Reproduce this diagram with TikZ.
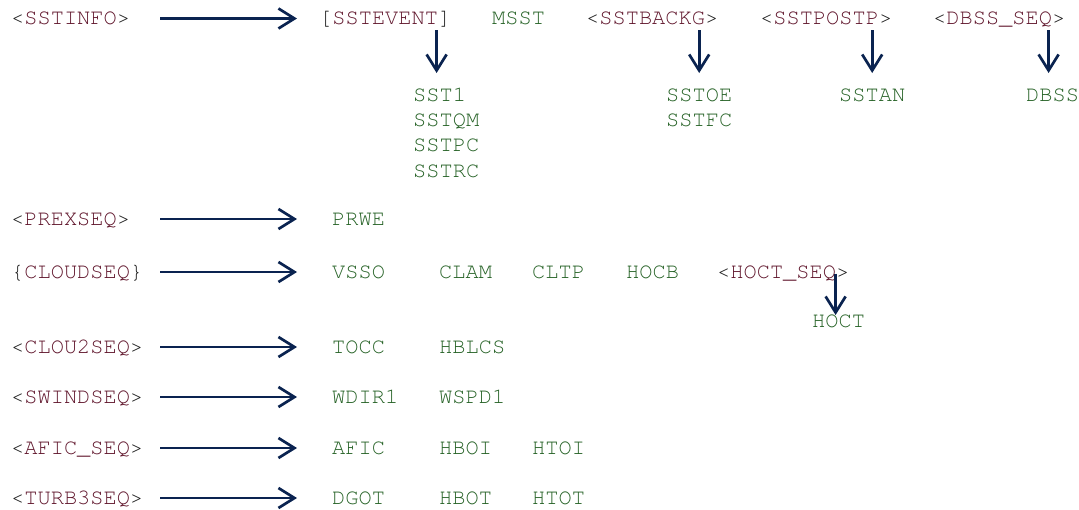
\documentclass[tikz,border=0pt]{standalone}
\usepackage{fontspec}
\setmonofont{texgyrecursor-regular.otf}
\usetikzlibrary{positioning,arrows.meta}
\definecolor{seqred}{RGB}{96,22,44}
\definecolor{brk}{RGB}{30,30,30}
\definecolor{elemgreen}{RGB}{38,98,38}
\definecolor{flownavy}{RGB}{10,35,80}
\newcommand{\seqlbl}[3]{\textcolor{brk}{#1}\textcolor{seqred}{#2}\textcolor{brk}{#3}}

\begin{document}
\begin{tikzpicture}[x=1pt,y=1pt,node distance=25.3pt,
    txt/.style={inner sep=0pt,anchor=west,text height=12.6pt,text depth=0pt,font=\ttfamily\fontsize{22}{25}\selectfont},
    seq/.style={txt,text width=149pt,align=left},
    elem/.style={txt,text=elemgreen},
    flow/.style={draw=flownavy,line width=2.7pt,-{Straight Barb[length=16pt,width=20pt]}},
    across/.style={flow,shorten >=35pt},
    down/.style={flow,shorten <=5pt,shorten >=15.5pt}]
    \useasboundingbox (0,0) rectangle (1079,-509);
    \node[seq] (sstinfo)  at (11,-18.5) {\seqlbl{<}{SSTINFO}{>}};
    \node[seq] (prexseq)  at (11,-219)  {\seqlbl{<}{PREXSEQ}{>}};
    \node[seq] (cloudseq) at (11,-272)  {\seqlbl{\{}{CLOUDSEQ}{\}}};
    \node[seq] (clou2seq) at (11,-347)  {\seqlbl{<}{CLOU2SEQ}{>}};
    \node[seq] (swindseq) at (11,-397)  {\seqlbl{<}{SWINDSEQ}{>}};
    \node[seq] (aficseq)  at (11,-448)  {\seqlbl{<}{AFIC\_SEQ}{>}};
    \node[seq] (turb3seq) at (11,-498)  {\seqlbl{<}{TURB3SEQ}{>}};

    \node[txt]  (sstevent) at (319,-18.5) {\seqlbl{[}{SSTEVENT}{]}};
    \node[elem] (msst)     at (492,-18.5) {MSST};
    \node[txt]  (sstbackg) at (586,-18.5) {\seqlbl{<}{SSTBACKG}{>}};
    \node[txt]  (sstpostp) at (760,-18.5) {\seqlbl{<}{SSTPOSTP}{>}};
    \node[txt]  (dbssseq)  at (933,-18.5) {\seqlbl{<}{DBSS\_SEQ}{>}};

    \node[elem] (sst1) at (413,-95) {SST1};
    \node[elem,below=of sst1.west,anchor=west]  (sstqm) {SSTQM};
    \node[elem,below=of sstqm.west,anchor=west] (sstpc) {SSTPC};
    \node[elem,below=of sstpc.west,anchor=west] (sstrc) {SSTRC};
    \node[elem] (sstoe) at (666,-95) {SSTOE};
    \node[elem,below=of sstoe.west,anchor=west] (sstfc) {SSTFC};
    \node[elem] (sstan) at (839,-95) {SSTAN};
    \node[elem] (dbss)  at (1026,-95) {DBSS};

    \node[elem] (prwe)    at (332,-219) {PRWE};
    \node[elem] (vsso)    at (332,-272) {VSSO};
    \node[elem] (clam)    at (439,-272) {CLAM};
    \node[elem] (cltp)    at (532,-272) {CLTP};
    \node[elem] (hocb)    at (626,-272) {HOCB};
    \node[txt]  (hoctseq) at (717,-272) {\seqlbl{<}{HOCT\_SEQ}{>}};
    \node[elem] (hoct)    at (812,-321.5) {HOCT};
    \node[elem] (tocc)    at (332,-347) {TOCC};
    \node[elem] (hblcs)   at (439,-347) {HBLCS};
    \node[elem] (wdir1)   at (332,-397) {WDIR1};
    \node[elem] (wspd1)   at (439,-397) {WSPD1};
    \node[elem] (afic)    at (332,-448) {AFIC};
    \node[elem] (hboi)    at (439,-448) {HBOI};
    \node[elem] (htoi)    at (532,-448) {HTOI};
    \node[elem] (dgot)    at (332,-498) {DGOT};
    \node[elem] (hbot)    at (439,-498) {HBOT};
    \node[elem] (htot)    at (532,-498) {HTOT};

    \draw[across,shorten >=22pt] (sstinfo.east) -- (sstevent.west);
    \draw[across] (prexseq.east)  -- (prwe.west);
    \draw[across] (cloudseq.east) -- (vsso.west);
    \draw[across] (clou2seq.east) -- (tocc.west);
    \draw[across] (swindseq.east) -- (wdir1.west);
    \draw[across] (aficseq.east)  -- (afic.west);
    \draw[across] (turb3seq.east) -- (dgot.west);

    \draw[down] ([xshift=-3pt]sst1.north |- sstevent.south) -- ([xshift=-3pt]sst1.north);
    \draw[down] (sstbackg.south -| sstoe.north) -- (sstoe.north);
    \draw[down] (sstpostp.south -| sstan.north) -- (sstan.north);
    \draw[down] ([xshift=-4pt]dbss.north |- dbssseq.south) -- ([xshift=-4pt]dbss.north);
    \draw[down,shorten <=-5pt,shorten >=0pt] ([xshift=-3pt]hoct.north |- hoctseq.south) -- ([xshift=-3pt]hoct.north);
\end{tikzpicture}
\end{document}
